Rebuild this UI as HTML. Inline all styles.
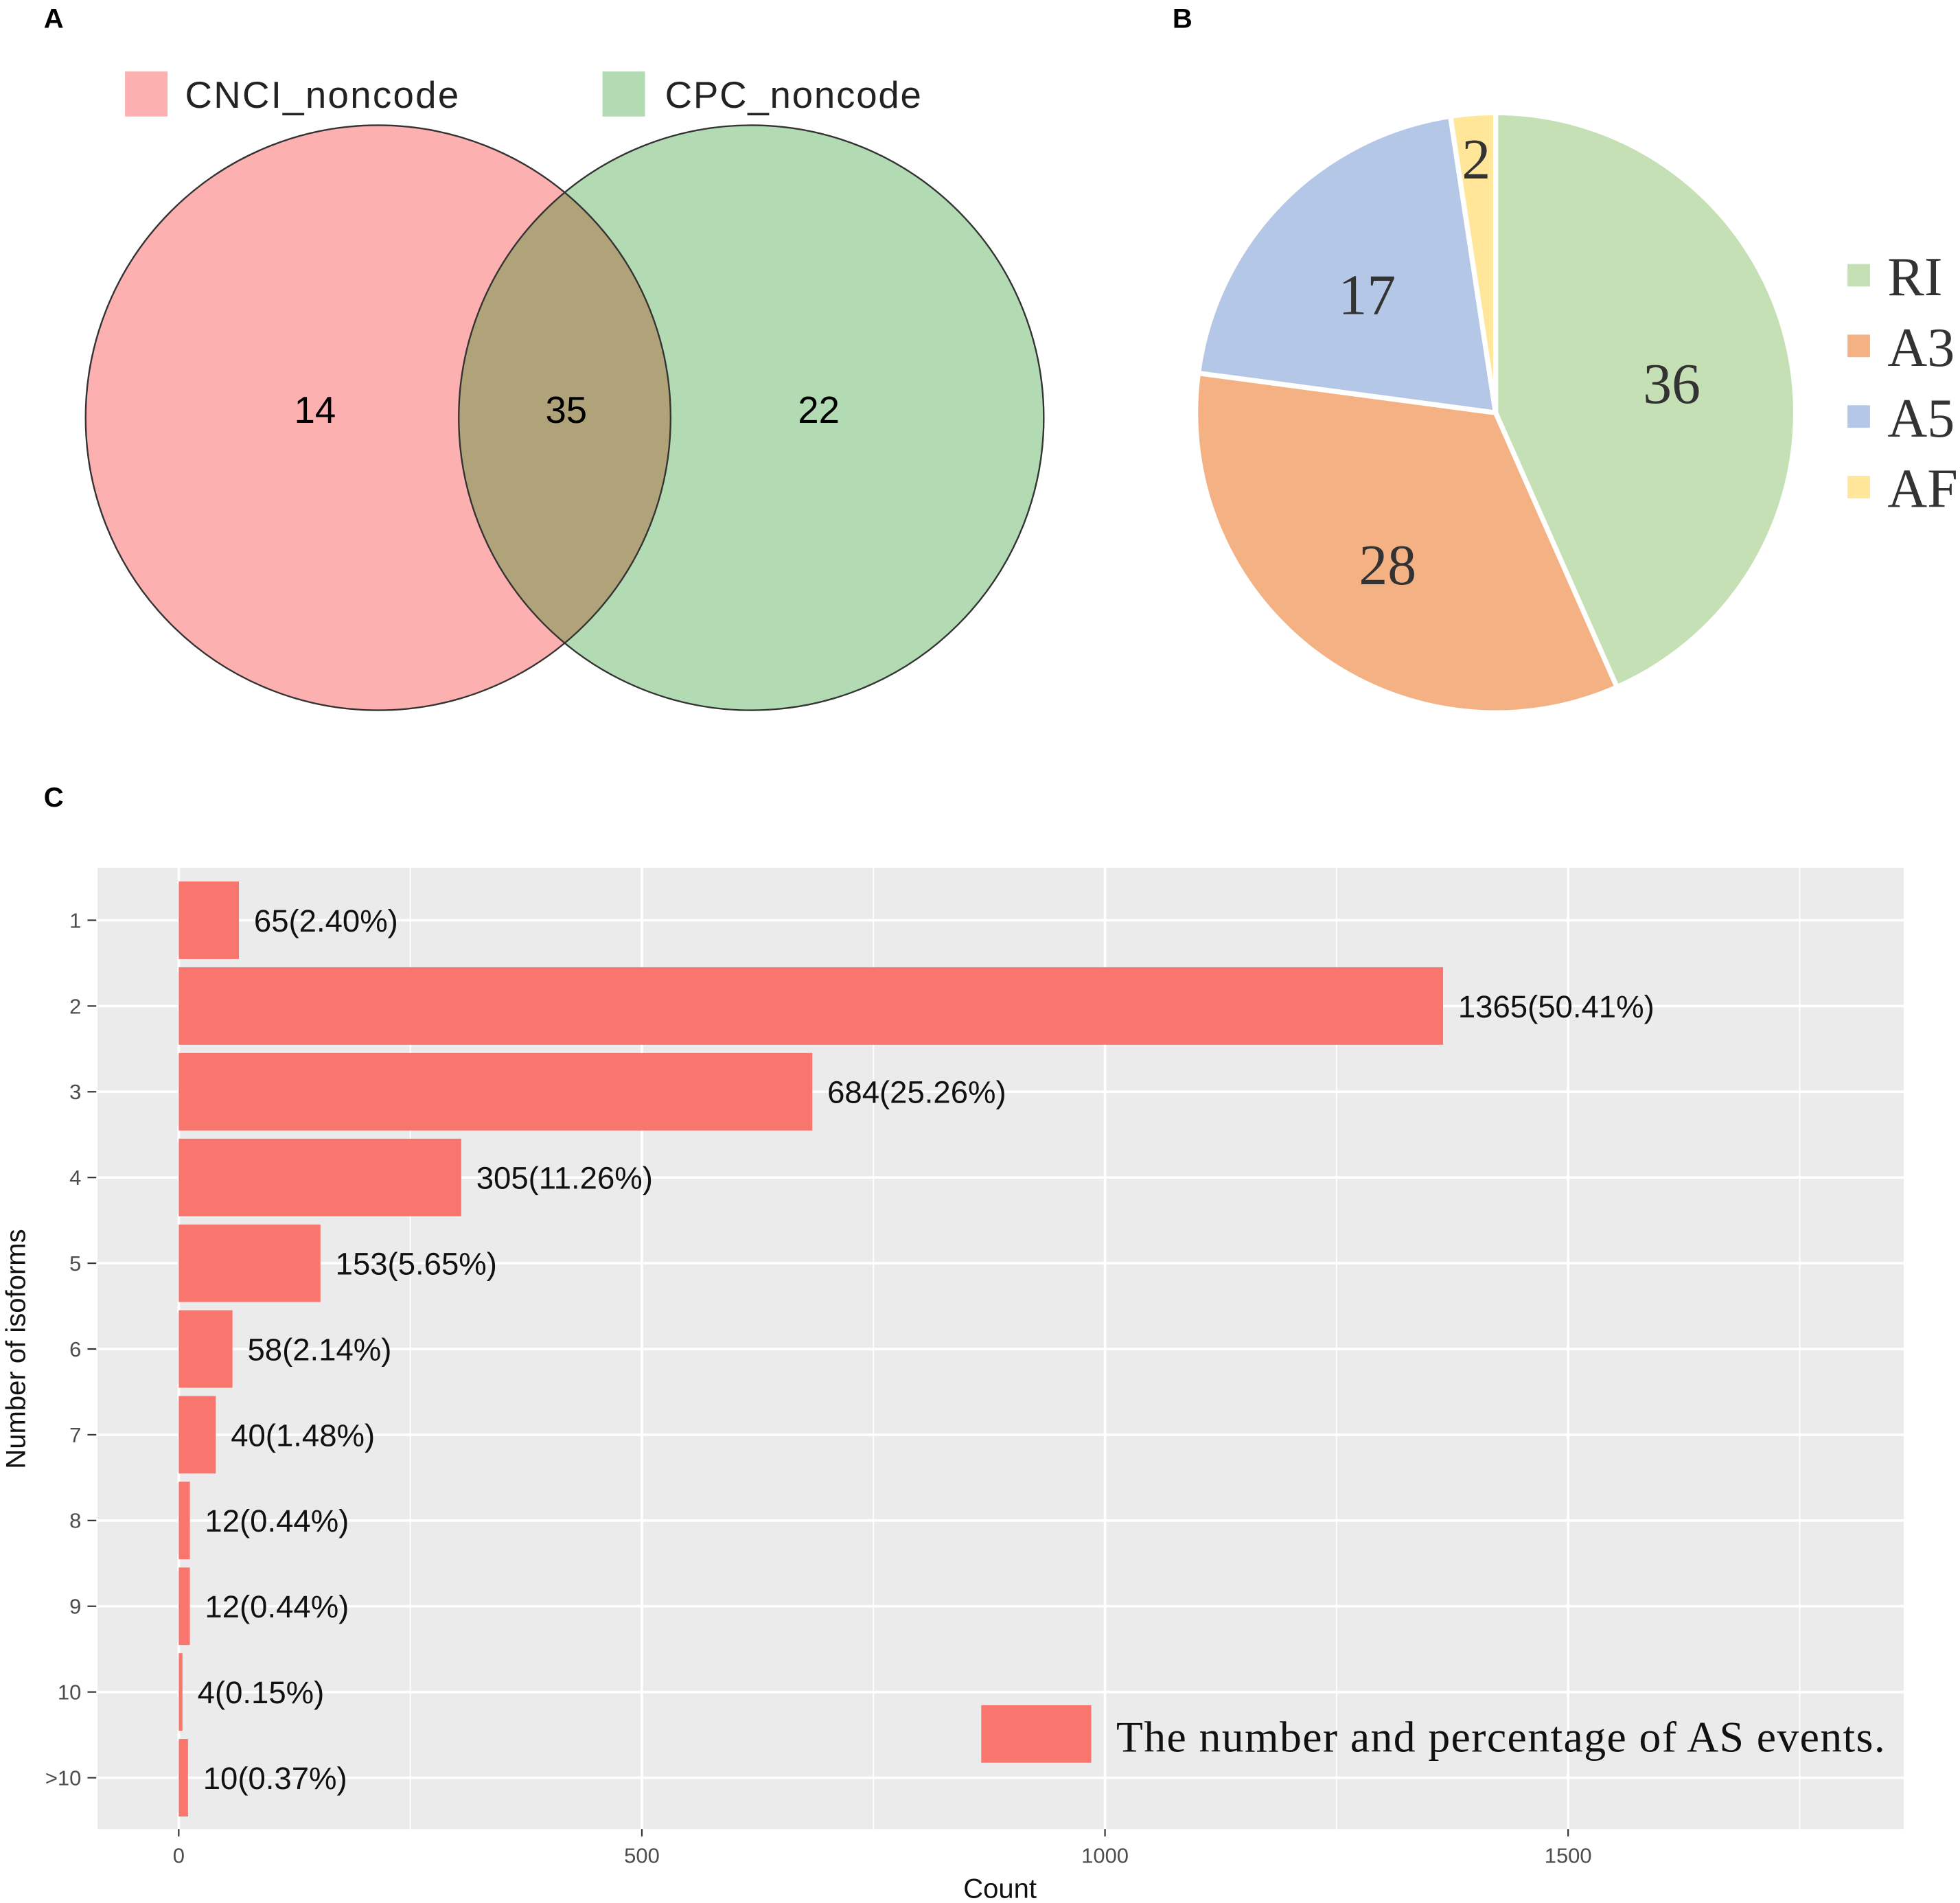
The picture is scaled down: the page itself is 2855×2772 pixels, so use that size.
<!DOCTYPE html>
<html><head><meta charset="utf-8"><style>
html,body{margin:0;padding:0;background:#fff}
svg{display:block}
text{font-family:"Liberation Sans",sans-serif}
.serif{font-family:"Liberation Serif",serif}
</style></head><body>
<svg id="fig" xmlns="http://www.w3.org/2000/svg" width="2855" height="2772" viewBox="0 0 1568 1522">
<defs>
<clipPath id="leftClip"><circle cx="302.5" cy="334" r="234"/></clipPath>
</defs>
<text x="35" y="22" font-size="22" font-weight="bold">A</text>
<text x="938" y="22" font-size="22" font-weight="bold">B</text>
<text x="35" y="645" font-size="22" font-weight="bold">C</text>

<g>
<rect x="100" y="57" width="34" height="36" fill="#fdb0b0"/>
<text x="148" y="86" font-size="30" fill="#222" textLength="219" font-family="DejaVu Sans, sans-serif">CNCI_noncode</text>
<rect x="482" y="57" width="34" height="36" fill="#b3dbb3"/>
<text x="532" y="86" font-size="30" fill="#222" textLength="205" font-family="DejaVu Sans, sans-serif">CPC_noncode</text>
<circle cx="302.5" cy="334" r="234" fill="#fdb0b0"/>
<circle cx="601" cy="334" r="234" fill="#b3dbb3"/>
<circle cx="601" cy="334" r="234" fill="#b0a37a" clip-path="url(#leftClip)"/>
<circle cx="302.5" cy="334" r="234" fill="none" stroke="#333" stroke-width="1.3"/>
<circle cx="601" cy="334" r="234" fill="none" stroke="#333" stroke-width="1.3"/>
<text x="252" y="338" font-size="30" text-anchor="middle" font-family="DejaVu Sans, sans-serif">14</text>
<text x="453" y="338" font-size="30" text-anchor="middle" font-family="DejaVu Sans, sans-serif">35</text>
<text x="655" y="338" font-size="30" text-anchor="middle" font-family="DejaVu Sans, sans-serif">22</text>
</g>

<g id="pie"></g>
<g id="bars"></g>
</svg>
<script>
var SVGNS='http://www.w3.org/2000/svg';
function mk(parent,tag,attrs,txt){var e=document.createElementNS(SVGNS,tag);for(var k in attrs){e.setAttribute(k,attrs[k]);}if(txt!==undefined){e.textContent=txt;}parent.appendChild(e);return e;}

var pieCategories=['RI','A3','A5','AF'];
var pieValues=[36,28,17,2];
var pieColors=['#c5e0b4','#f4b183','#b4c7e7','#ffe699'];

var barCategories=['1','2','3','4','5','6','7','8','9','10','>10'];
var barValues=[65,1365,684,305,153,58,40,12,12,4,10];
var barLabels=['65(2.40%)','1365(50.41%)','684(25.26%)','305(11.26%)','153(5.65%)','58(2.14%)','40(1.48%)','12(0.44%)','12(0.44%)','4(0.15%)','10(0.37%)'];
var xTicks=[0,500,1000,1500];
var xMinor=[250,750,1250,1750];

(function(){
var pie=document.getElementById('pie');
var pcx=1196.5,pcy=330,R=240;
var total=0;for(var i=0;i<pieValues.length;i++)total+=pieValues[i];
function pt(a,r){return [pcx+r*Math.sin(a),pcy-r*Math.cos(a)];}
var a0=0;
for(var i=0;i<pieValues.length;i++){
  try{
  var v=pieValues[i];
  var a1=a0+v/total*2*Math.PI;
  var p0=pt(a0,R),p1=pt(a1,R);
  var large=(a1-a0)>Math.PI?1:0;
  var p=mk(pie,'path',{d:'M'+pcx+','+pcy+'L'+p0[0]+','+p0[1]+'A'+R+','+R+' 0 '+large+' 1 '+p1[0]+','+p1[1]+'Z',fill:pieColors[i],stroke:'#fff','stroke-width':4});
  var am=(a0+a1)/2;
  var lr=v<5?205:R*0.6;
  var lp=pt(am,lr);
  var t=mk(pie,'text',{x:lp[0],y:lp[1]+(v<5?17:22),'font-size':46,'text-anchor':'middle',fill:'#333','class':'serif'},String(v));
  a0=a1;
  try{
  
  
  
  
  }catch(e){}
  }catch(e){console.log(e);}
}
for(var i=0;i<pieCategories.length;i++){
  try{
  var y=211+i*56.5;
  var r=mk(pie,'rect',{x:1478,y:y,width:18,height:18,fill:pieColors[i]});
  var t2=mk(pie,'text',{x:1510,y:y+25,'font-size':44,fill:'#333','class':'serif'},pieCategories[i]);
  try{
  
  
  
  
  }catch(e){}
  }catch(e){console.log(e);}
}
})();

(function(){
var g=document.getElementById('bars');
var px0=78,px1=1523,py0=694,py1=1463;
function xs(v){return 143+v*(884-143)/1000;}
function ys(i){return 736+i*(1422-736)/(barCategories.length-1);}
var bh=62;
var bg=mk(g,'rect',{x:px0,y:py0,width:px1-px0,height:py1-py0,fill:'#ebebeb'});
try{


}catch(e){}
for(var j=0;j<xMinor.length;j++){mk(g,'line',{x1:xs(xMinor[j]),x2:xs(xMinor[j]),y1:py0,y2:py1,stroke:'#fff','stroke-width':1});}
for(var j=0;j<xTicks.length;j++){mk(g,'line',{x1:xs(xTicks[j]),x2:xs(xTicks[j]),y1:py0,y2:py1,stroke:'#fff','stroke-width':2});}
for(var i=0;i<barCategories.length;i++){mk(g,'line',{x1:px0,x2:px1,y1:ys(i),y2:ys(i),stroke:'#fff','stroke-width':2});}
for(var i=0;i<barValues.length;i++){
  try{
  var v=barValues[i];
  var r=mk(g,'rect',{x:xs(0),y:ys(i)-bh/2,width:Math.max(0,xs(v)-xs(0)),height:bh,fill:'#f8766d'});
  var t=mk(g,'text',{x:xs(v)+12,y:ys(i)+9,'font-size':25,fill:'#111'},barLabels[i]);
  var tl=mk(g,'text',{x:65,y:ys(i)+6,'font-size':17,'text-anchor':'end',fill:'#4d4d4d'},barCategories[i]);
  mk(g,'line',{x1:70,x2:77,y1:ys(i),y2:ys(i),stroke:'#333','stroke-width':1.2});
  try{
  
  
  
  
  
  
  }catch(e){}
  }catch(e){console.log(e);}
}
for(var j=0;j<xTicks.length;j++){
  try{
  var xv=xTicks[j];
  mk(g,'line',{x1:xs(xv),x2:xs(xv),y1:py1,y2:py1+6,stroke:'#333','stroke-width':1.2});
  var tx=mk(g,'text',{x:xs(xv),y:1490,'font-size':17,'text-anchor':'middle',fill:'#4d4d4d'},String(xv));
  try{
  
  
  }catch(e){}
  }catch(e){console.log(e);}
}
try{
var xt=mk(g,'text',{x:800,y:1518,'font-size':22,'text-anchor':'middle',fill:'#111'},'Count');
var yt=mk(g,'text',{x:0,y:0,'font-size':22,'text-anchor':'middle',fill:'#111',transform:'translate(20,1079) rotate(-90)'},'Number of isoforms');
var ls=mk(g,'rect',{x:785,y:1364,width:88,height:46,fill:'#f8766d'});
var lt=mk(g,'text',{x:893,y:1401,'font-size':35,fill:'#111','class':'serif',textLength:615},'The number and percentage of AS events.');
try{








}catch(e){}
}catch(e){console.log(e);}
})();
</script>
</body></html>
